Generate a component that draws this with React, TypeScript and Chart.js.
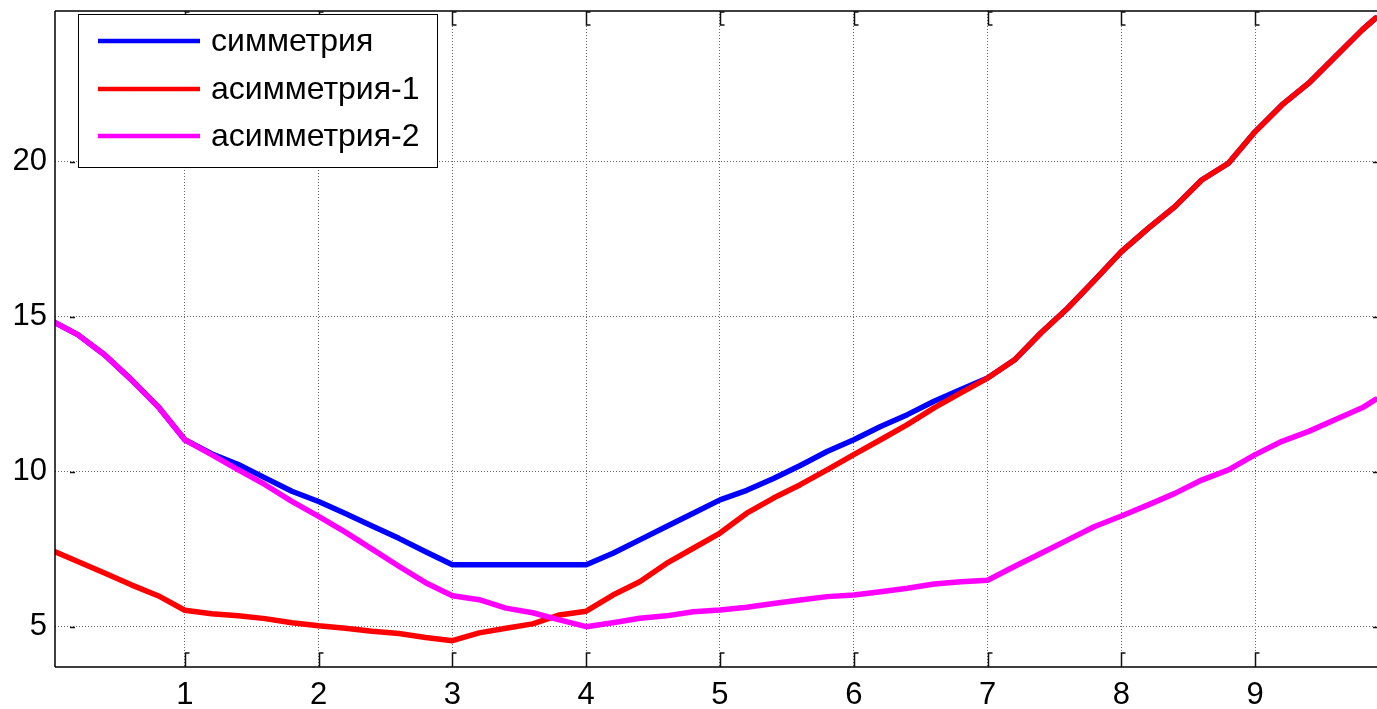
import React, { useEffect, useRef } from 'react';
import { Chart, registerables } from 'chart.js';

Chart.register(...registerables);

const X_VALUES = [
  0, 0.2, 0.4, 0.6, 0.8, 1.0, 1.2, 1.4, 1.6, 1.8,
  2.0, 2.2, 2.4, 2.6, 2.8, 3.0, 3.2, 3.4, 3.6, 3.8,
  4.0, 4.2, 4.4, 4.6, 4.8, 5.0, 5.2, 5.4, 5.6, 5.8,
  6.0, 6.2, 6.4, 6.6, 6.8, 7.0, 7.2, 7.4, 7.6, 7.8,
  8.0, 8.2, 8.4, 8.6, 8.8, 9.0, 9.2, 9.4, 9.6, 9.8, 9.9,
];

const SYMMETRY = [
  14.88, 14.42, 13.77, 12.97, 12.1, 11.03, 10.58, 10.23, 9.8, 9.37,
  9.04, 8.65, 8.25, 7.85, 7.42, 7.0, 7.0, 7.0, 7.0, 7.0,
  7.0, 7.37, 7.8, 8.23, 8.66, 9.09, 9.4, 9.78, 10.2, 10.65,
  11.03, 11.46, 11.84, 12.27, 12.65, 13.02, 13.6, 14.48, 15.28, 16.18,
  17.1, 17.85, 18.55, 19.41, 19.95, 20.97, 21.83, 22.53, 23.39, 24.25, 24.63,
];

const ASYMMETRY_1 = [
  7.47, 7.1, 6.73, 6.35, 6.0, 5.53, 5.42, 5.35, 5.26, 5.13,
  5.03, 4.95, 4.85, 4.78, 4.65, 4.55, 4.8, 4.95, 5.09, 5.38,
  5.5, 6.02, 6.45, 7.04, 7.53, 8.02, 8.66, 9.15, 9.58, 10.06,
  10.55, 11.03, 11.52, 12.06, 12.54, 13.02, 13.6, 14.48, 15.28, 16.18,
  17.1, 17.85, 18.55, 19.41, 19.95, 20.97, 21.83, 22.53, 23.39, 24.25, 24.63,
];

const ASYMMETRY_2 = [
  14.88, 14.42, 13.77, 12.97, 12.1, 11.03, 10.55, 10.06, 9.58, 9.04,
  8.56, 8.05, 7.5, 6.95, 6.42, 6.0, 5.87, 5.6, 5.45, 5.22,
  5.0, 5.13, 5.27, 5.35, 5.48, 5.54, 5.63, 5.75, 5.86, 5.97,
  6.02, 6.13, 6.24, 6.38, 6.45, 6.5, 6.94, 7.37, 7.8, 8.23,
  8.57, 8.93, 9.3, 9.73, 10.06, 10.55, 10.98, 11.3, 11.68, 12.06, 12.33,
];

const SERIES_LABELS = ['симметрия', 'асимметрия-1', 'асимметрия-2'];
const SERIES_COLORS = ['#0000ff', '#ff0000', '#ff00ff'];

const X_TICKS = [1, 2, 3, 4, 5, 6, 7, 8, 9];
const Y_TICKS = [5, 10, 15, 20];

const X_MIN = 0.03;
const X_MAX = 10;
const Y_MIN = 3.7;
const Y_MAX = 24.86;

const FONT_FAMILY = '"Liberation Sans", Arial, Helvetica, sans-serif';

const framePlugin = {
  id: 'matlabFrame',
  afterDraw(chart: any) {
    const { ctx, chartArea, scales } = chart;
    const { left, right, top, bottom } = chartArea;
    ctx.save();
    ctx.strokeStyle = '#000000';
    ctx.lineWidth = 1.5;
    ctx.beginPath();
    ctx.moveTo(left, top);
    ctx.lineTo(right, top);
    ctx.moveTo(left, top);
    ctx.lineTo(left, bottom);
    ctx.moveTo(left, bottom);
    ctx.lineTo(right, bottom);
    ctx.stroke();

    ctx.lineWidth = 1.5;
    ctx.strokeStyle = '#111111';
    const xs = scales.x;
    const ys = scales.y;
    X_TICKS.forEach((v) => {
      const px = Math.round(xs.getPixelForValue(v)) + 0.5;
      ctx.beginPath();
      ctx.moveTo(px, bottom);
      ctx.lineTo(px, bottom - 14);
      ctx.lineTo(px + 4, bottom - 14);
      ctx.moveTo(px + 4, top + 1);
      ctx.lineTo(px, top + 1);
      ctx.lineTo(px, top + 14);
      ctx.lineTo(px + 4, top + 14);
      ctx.stroke();
    });
    Y_TICKS.forEach((v) => {
      const py = Math.round(ys.getPixelForValue(v)) + 0.5;
      ctx.beginPath();
      ctx.moveTo(left + 15, py);
      ctx.lineTo(left + 20, py);
      ctx.moveTo(1373, py);
      ctx.lineTo(1377, py);
      ctx.stroke();
    });

    // legend box
    const bx = 78;
    const by = 14;
    const bw = 359;
    const bh = 153;
    ctx.fillStyle = '#ffffff';
    ctx.fillRect(bx, by, bw, bh);
    ctx.strokeStyle = '#000000';
    ctx.lineWidth = 1;
    ctx.strokeRect(bx + 0.5, by + 0.5, bw, bh);
    const rows = [41, 89, 136];
    ctx.font = `32px ${FONT_FAMILY}`;
    ctx.textBaseline = 'middle';
    ctx.textAlign = 'left';
    chart.data.datasets.forEach((ds: any, i: number) => {
      const y = rows[i];
      ctx.strokeStyle = ds.borderColor;
      ctx.lineWidth = 4.5;
      ctx.beginPath();
      ctx.moveTo(98, y);
      ctx.lineTo(200, y);
      ctx.stroke();
      ctx.fillStyle = '#000000';
      ctx.fillText(ds.label, 211, y + 1);
    });
    ctx.restore();
  },
};

export default function App() {
  const canvasRef = useRef<HTMLCanvasElement | null>(null);

  useEffect(() => {
    const canvas = canvasRef.current;
    if (!canvas) return;
    const mk = (ys: number[]) => X_VALUES.map((x, i) => ({ x, y: ys[i] }));
    const seriesValues = [SYMMETRY, ASYMMETRY_1, ASYMMETRY_2];
    const orders = [2, 1, 0];
    const chart = new Chart(canvas, {
      type: 'line',
      data: {
        datasets: seriesValues.map((vals, i) => ({
          label: SERIES_LABELS[i],
          data: mk(vals),
          borderColor: SERIES_COLORS[i],
          backgroundColor: SERIES_COLORS[i],
          borderWidth: 5.5,
          pointRadius: 0,
          tension: 0,
          fill: false,
          order: orders[i],
          borderJoinStyle: 'round',
          borderCapStyle: 'round',
        })),
      },
      options: {
        responsive: false,
        animation: false,
        devicePixelRatio: 1,
        layout: { padding: { top: 11, right: 11, left: 0, bottom: 0 } },
        plugins: {
          legend: { display: false },
          tooltip: { enabled: false },
        },
        scales: {
          x: {
            type: 'linear',
            min: X_MIN,
            max: X_MAX,
            afterBuildTicks: (s: any) => {
              s.ticks = X_TICKS.map((v) => ({ value: v }));
            },
            afterFit: (s: any) => {
              s.height = 42;
              s.paddingLeft = 0;
              s.paddingRight = 0;
            },
            grid: { color: '#6a6a6a', lineWidth: 1, drawTicks: false },
            border: { display: false, dash: [1, 2] },
            ticks: {
              color: '#000000',
              font: { size: 31, family: FONT_FAMILY },
              padding: 10,
              maxRotation: 0,
              autoSkip: false,
            },
          },
          y: {
            type: 'linear',
            min: Y_MIN,
            max: Y_MAX,
            afterBuildTicks: (s: any) => {
              s.ticks = Y_TICKS.map((v) => ({ value: v }));
            },
            afterFit: (s: any) => {
              s.width = 55;
              s.paddingTop = 0;
              s.paddingBottom = 0;
            },
            grid: { color: '#6a6a6a', lineWidth: 1, drawTicks: false },
            border: { display: false, dash: [1, 2] },
            ticks: {
              color: '#000000',
              font: { size: 31, family: FONT_FAMILY },
              padding: 8,
              autoSkip: false,
            },
          },
        },
      },
      plugins: [framePlugin],
    } as any);
    return () => {
      chart.destroy();
    };
  }, []);

  return (
    <div
      style={{
        position: 'absolute',
        left: 0,
        top: 0,
        width: 1377,
        height: 709,
        overflow: 'hidden',
        background: '#ffffff',
      }}
    >
      <canvas ref={canvasRef} width={1400} height={709} style={{ display: 'block' }} />
    </div>
  );
}
